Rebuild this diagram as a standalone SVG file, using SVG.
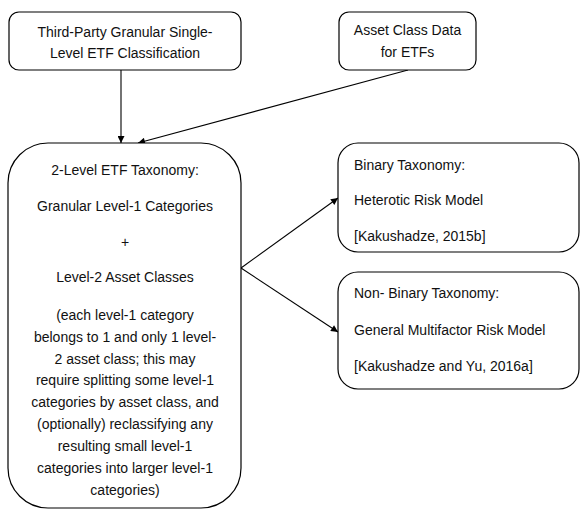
<svg xmlns="http://www.w3.org/2000/svg" width="580" height="512" viewBox="0 0 580 512">
<style>
.box{fill:#fff;stroke:#000;stroke-width:1.2}
.t{font-family:"Liberation Sans",Arial,sans-serif;font-size:14px;fill:#111}
.c{text-anchor:middle}
.ln{stroke:#000;stroke-width:1.1;fill:none;marker-end:url(#ah)}
</style>
<defs>
<marker id="ah" viewBox="0 0 10 10" refX="10" refY="5" markerWidth="9" markerHeight="7" markerUnits="userSpaceOnUse" orient="auto">
<path d="M0,0 L10,5 L0,10 z" fill="#000"/>
</marker>
</defs>
<rect width="580" height="512" fill="#fff"/>
<g id="connectors">
<line class="ln" x1="121" y1="70" x2="121" y2="143"/>
<line class="ln" x1="408" y1="70" x2="138" y2="143"/>
<line class="ln" x1="241" y1="268" x2="338" y2="198"/>
<line class="ln" x1="241" y1="268" x2="338" y2="332"/>
</g>
<g id="third-party">
<rect class="box" x="9" y="12" width="232" height="58" rx="10"/>
<text class="t c" x="125" y="37">Third-Party Granular Single-</text>
<text class="t c" x="125" y="58">Level ETF Classification</text>
</g>
<g id="asset-class-data">
<rect class="box" x="339" y="12" width="137" height="58" rx="10"/>
<text class="t c" x="407.5" y="35">Asset Class Data</text>
<text class="t c" x="407.5" y="57">for ETFs</text>
</g>
<g id="two-level">
<rect class="box" x="8" y="143" width="233" height="365" rx="40"/>
<text class="t c" x="125" y="175">2-Level ETF Taxonomy:</text>
<text class="t c" x="125" y="211">Granular Level-1 Categories</text>
<text class="t c" x="125" y="247">+</text>
<text class="t c" x="125" y="282">Level-2 Asset Classes</text>
<text class="t c" x="125" y="320">(each level-1 category</text>
<text class="t c" x="125" y="342">belongs to 1 and only 1 level-</text>
<text class="t c" x="125" y="364">2 asset class; this may</text>
<text class="t c" x="125" y="385">require splitting some level-1</text>
<text class="t c" x="125" y="407">categories by asset class, and</text>
<text class="t c" x="125" y="429">(optionally) reclassifying any</text>
<text class="t c" x="125" y="451">resulting small level-1</text>
<text class="t c" x="125" y="473">categories into larger level-1</text>
<text class="t c" x="125" y="495">categories)</text>
</g>
<g id="binary">
<rect class="box" x="338" y="143" width="241" height="109" rx="20"/>
<text class="t" x="354" y="170">Binary Taxonomy:</text>
<text class="t" x="354" y="205">Heterotic Risk Model</text>
<text class="t" x="354" y="241">[Kakushadze, 2015b]</text>
</g>
<g id="non-binary">
<rect class="box" x="338" y="272" width="241" height="117" rx="20"/>
<text class="t" x="354" y="298">Non- Binary Taxonomy:</text>
<text class="t" x="354" y="335">General Multifactor Risk Model</text>
<text class="t" x="354" y="371">[Kakushadze and Yu, 2016a]</text>
</g>
</svg>
